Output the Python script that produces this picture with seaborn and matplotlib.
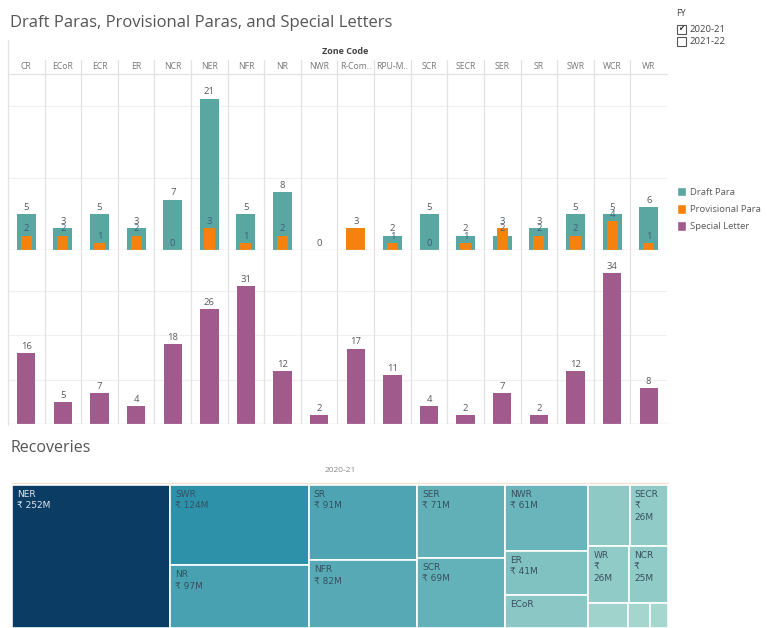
import numpy as np
import pandas as pd
import matplotlib
matplotlib.use("Agg")
import matplotlib.pyplot as plt
from matplotlib.patches import Rectangle, Patch
from matplotlib.colors import LinearSegmentedColormap, Normalize
import seaborn as sns

# ---------------- data ----------------
zones = ["CR", "ECoR", "ECR", "ER", "NCR", "NER", "NFR", "NR", "NWR", "R-Com..",
         "RPU-M..", "SCR", "SECR", "SER", "SR", "SWR", "WCR", "WR"]
draft_para = [5, 3, 5, 3, 7, 21, 5, 8, 0, np.nan, 2, 5, 2, 2, 3, 5, 5, 6]
provisional_para = [2, 2, 1, 2, 0, 3, 1, 2, np.nan, 3, 1, 0, 1, 3, 2, 2, 4, 1]
special_letter = [16, 5, 7, 4, 18, 26, 31, 12, 2, 17, 11, 4, 2, 7, 2, 12, 34, 8]

# Recoveries (₹ million), grouped into treemap columns
recovery_zones = ["NER", "SWR", "NR", "SR", "NFR", "SER", "SCR", "NWR", "ER", "ECoR",
                  "CR", "SECR", "WR", "NCR", "WCR", "ECR", "RPU-M"]
recovery_values = [252, 124, 97, 91, 82, 71, 69, 61, 41, 31, 28, 26, 26, 25, 11, 6, 5]
recovery_labelled = [True, True, True, True, True, True, True, True, True, True,
                     False, True, True, True, False, False, False]
# column groups; the last column is split into rows
treemap_columns = [[["NER"]], [["SWR"], ["NR"]], [["SR"], ["NFR"]], [["SER"], ["SCR"]],
                   [["NWR"], ["ER"], ["ECoR"]],
                   [["CR", "SECR"], ["WR", "NCR"], ["WCR", "ECR", "RPU-M"]]]

fy_options = ["2020-21", "2021-22"]

# ---------------- style ----------------
sns.set_theme(style="white")
plt.rcParams["font.family"] = ["Open Sans", "DejaVu Sans"]

TEAL = "#5aa6a1"
ORANGE = "#f5820f"
PURPLE = "#a05a8c"
GRAY_TXT = "#5a5a5a"
SEP = "#e2e2e2"

W, H = 767, 628
fig = plt.figure(figsize=(W / 100, H / 100), dpi=100)
fig.patch.set_facecolor("white")


def fx(px):
    return px / W


def fy(py):
    return 1 - py / H


def axes_px(x0, y0, x1, y1):
    return fig.add_axes([fx(x0), fy(y1), fx(x1) - fx(x0), fy(y0) - fy(y1)])


n = len(zones)
df = pd.DataFrame({"zone": zones, "draft": draft_para, "prov": provisional_para,
                   "special": special_letter})

LEFT, RIGHT = 8, 667

# ---------------- title ----------------
fig.text(fx(10), fy(23), "Draft Paras, Provisional Paras, and Special Letters",
         fontsize=12, color="#555555", va="center", ha="left")

# ---------------- header ----------------
ax_h = axes_px(LEFT, 42, RIGHT, 74)
ax_h.set_xlim(-0.5, n - 0.5)
ax_h.set_ylim(0, 1)
ax_h.axis("off")
for i in range(n):
    ax_h.text(i, 0.22, zones[i], ha="center", va="center", fontsize=6.2, color="#777777")
for b in np.arange(0.5, n - 0.5, 1):
    ax_h.plot([b, b], [0, 0.45], color=SEP, lw=0.9)
fig.text(fx(345), fy(51), "Zone Code", fontsize=6.5, fontweight="bold",
         color="#444444", ha="center", va="center")
fig.add_artist(plt.Line2D([fx(LEFT), fx(RIGHT)], [fy(74), fy(74)], color=SEP, lw=0.9))
fig.add_artist(plt.Line2D([fx(LEFT), fx(LEFT)], [fy(40), fy(425)], color=SEP, lw=0.9))


def style_panel(ax, ymax, grid):
    ax.set_xlim(-0.5, n - 0.5)
    ax.set_ylim(0, ymax)
    ax.set_xlabel("")
    ax.set_ylabel("")
    ax.set_xticks([])
    ax.set_yticks([])
    for s in ax.spines.values():
        s.set_visible(False)
    for g in grid:
        ax.axhline(g, color="#f0f0f0", lw=0.8, zorder=0)
    for b in np.arange(0.5, n - 0.5, 1):
        ax.axvline(b, color=SEP, lw=0.9, zorder=0)
    ax.axhline(0, color="#cfcfcf", lw=0.9, zorder=3)


bar_kw = dict(saturation=1, linewidth=0, edgecolor="none", zorder=2)

# ---------------- top panel: draft / provisional paras ----------------
ax_t = axes_px(LEFT, 74, RIGHT, 250)
d = df.dropna(subset=["draft"])
sns.barplot(data=d, x="zone", y="draft", order=zones, color=TEAL, width=0.52, ax=ax_t,
            **bar_kw)
has_draft = df["draft"].notna()
p_narrow = df[df["prov"].notna() & has_draft]
p_wide = df[df["prov"].notna() & ~has_draft]
sns.barplot(data=p_narrow, x="zone", y="prov", order=zones, color=ORANGE, width=0.30,
            ax=ax_t, **bar_kw)
sns.barplot(data=p_wide, x="zone", y="prov", order=zones, color=ORANGE, width=0.52,
            ax=ax_t, **bar_kw)
style_panel(ax_t, 24.4, [10, 20])
conts = ax_t.containers
ax_t.bar_label(conts[0], labels=[f"{v:g}" for v in d["draft"]], padding=1.5,
               fontsize=6.8, color=GRAY_TXT)
ax_t.bar_label(conts[1], labels=[f"{v:g}" for v in p_narrow["prov"]], padding=1.5,
               fontsize=6.8, color="#3f5f7a")
ax_t.bar_label(conts[2], labels=[f"{v:g}" for v in p_wide["prov"]], padding=1.5,
               fontsize=6.8, color=GRAY_TXT)

# ---------------- bottom panel: special letters ----------------
ax_b = axes_px(LEFT, 250, RIGHT, 424)
sns.barplot(data=df, x="zone", y="special", order=zones, color=PURPLE, width=0.5, ax=ax_b,
            **bar_kw)
style_panel(ax_b, 39.2, [10, 20, 30])
ax_b.bar_label(ax_b.containers[0], labels=[f"{v:g}" for v in df["special"]],
               padding=1.5, fontsize=6.8, color=GRAY_TXT)

# ---------------- legend ----------------
handles = [Patch(facecolor=TEAL, label="Draft Para"),
           Patch(facecolor=ORANGE, label="Provisional Para"),
           Patch(facecolor=PURPLE, label="Special Letter")]
fig.legend(handles=handles, loc="upper left", bbox_to_anchor=(fx(673), fy(183)),
           frameon=False, fontsize=6.8, handlelength=1.0, handleheight=1.2,
           handletextpad=0.45, labelspacing=0.75, labelcolor=GRAY_TXT, borderaxespad=0)

# ---------------- FY filter ----------------
fig.text(fx(676), fy(14), "FY", fontsize=6.5, color="#444444", va="center")
for k, opt in enumerate(fy_options):
    yy = 29 + 12 * k
    fig.add_artist(Rectangle((fx(677), fy(yy + 5)), fx(9), 9 / H, transform=fig.transFigure,
                             facecolor="white", edgecolor="#555555", lw=0.8))
    fig.text(fx(689), fy(yy), opt, fontsize=6.8, color="#444444", va="center")
fig.text(fx(681.5), fy(29), "✔", fontsize=5.5, color="#333333", va="center", ha="center",
         family="DejaVu Sans")

# ---------------- Recoveries treemap ----------------
fig.text(fx(10), fy(448), "Recoveries", fontsize=11.5, color="#555555", va="center")
fig.text(fx(340), fy(471), "2020-21", fontsize=6, color="#888888", va="center", ha="center")
fig.add_artist(plt.Line2D([fx(12), fx(668)], [fy(483), fy(483)], color="#f3e3d3", lw=1.0))

val = dict(zip(recovery_zones, recovery_values))
lab = dict(zip(recovery_zones, recovery_labelled))
cmap = LinearSegmentedColormap.from_list(
    "bluteal", [(0, "#a6d7ce"), (0.22, "#6cb6bb"), (0.5, "#2a8fa9"), (1, "#0b3c64")])
norm = Normalize(min(recovery_values), max(recovery_values))

TM_X0, TM_X1, TM_Y0, TM_Y1 = 12, 668, 485, 628
ax_m = axes_px(TM_X0, TM_Y0, TM_X1, TM_Y1)
total = float(sum(recovery_values))
ax_m.set_xlim(0, total)
ax_m.set_ylim(1, 0)
ax_m.axis("off")
px_per_unit = (TM_X1 - TM_X0) / total

x = 0.0
for col in treemap_columns:
    col_sum = sum(val[z] for row in col for z in row)
    y = 0.0
    for row in col:
        row_sum = sum(val[z] for z in row)
        h = row_sum / col_sum
        xx = x
        for z in row:
            w = col_sum * val[z] / row_sum
            ax_m.add_patch(Rectangle((xx, y), w, h, facecolor=cmap(norm(val[z])),
                                     edgecolor="white", lw=1.2))
            if lab[z]:
                cell_w = w * px_per_unit
                cell_h = h * (TM_Y1 - TM_Y0)
                if cell_w < 50:
                    lines = [z, "₹", f"{val[z]}M"]
                else:
                    lines = [z, f"₹ {val[z]}M"]
                max_lines = max(1, int((cell_h - 10) // 12.5))
                txt = "\n".join(lines[:max_lines])
                color = "#dfe4ee" if val[z] > 200 else "#37505f"
                ax_m.annotate(txt, xy=(xx, y), xytext=(5, -5), textcoords="offset pixels",
                              ha="left", va="top", fontsize=6.5, color=color,
                              linespacing=1.35, family=["DejaVu Sans"])
            xx += w
        y += h
    x += col_sum

fig.savefig("out.png", dpi=100, facecolor="white")
